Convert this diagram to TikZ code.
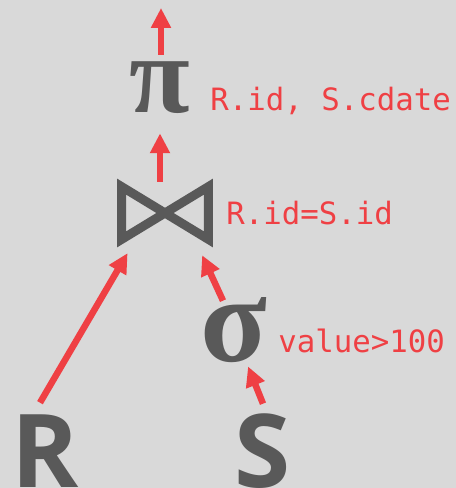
\documentclass[tikz,border=0pt]{standalone}
\usepackage{fontspec}
\setmonofont{DejaVu Sans Mono}
\newfontfamily\opfont{Open Sans}
\newfontfamily\greekfont{Liberation Serif}
\usepackage{tikz}
\usetikzlibrary{arrows.meta,positioning}
\definecolor{bggray}{HTML}{D9D9D9}
\definecolor{opgray}{HTML}{595959}
\definecolor{predred}{HTML}{EF4044}

\begin{document}
\begin{tikzpicture}[x=0.02cm, y=-0.02cm, >={Triangle[length=11.3pt,width=10.8pt]}]
  \tikzstyle{flow} = [->, draw=predred, line width=3.7pt]
  \tikzstyle{op} = [inner sep=0pt, anchor=base, text depth=0pt, text=opgray, font=\opfont\bfseries\fontsize{58}{58}\selectfont]
  \tikzstyle{greekop} = [op, font=\greekfont\bfseries\fontsize{70}{70}\selectfont]
  \tikzstyle{pred} = [inner sep=0pt, anchor=base west, text=predred, font=\ttfamily\fontsize{17.5}{20}\selectfont]

  \useasboundingbox (0,0) rectangle (456,488);
  \fill[bggray] (0,0) rectangle (456,488);

  % projection
  \coordinate (out) at (161,8);
  \node[greekop, text height=1.14cm, font=\greekfont\bfseries\fontsize{63}{63}\selectfont] (pi) at (160,112) {π};
  \node[pred] (pilabel) at (210,110) {R.id, S.cdate};

  % join
  \node[minimum width=1.72cm, minimum height=1.04cm, inner sep=0pt] (join) at (165,213) {};
  \draw[opgray, line width=5.1pt, line join=miter]
    (join.north west) -- (join.south east) -- (join.north east) -- (join.south west) -- cycle;
  \node[pred] (joinlabel) at (226,224) {R.id=S.id};

  % selection
  \node[greekop, text height=1.2cm] (sigma) at (234,361) {σ};
  \node[pred] (sigmalabel) at (278,352) {value>100};

  % base relations
  \node[op, text height=1.68cm] (R) at (45,487) {R};
  \node[op, text height=1.66cm] (S) at (263,487) {S};

  % tuples flow upwards
  \draw[flow] ([xshift=0.02cm]pi.north) -- (out);
  \draw[flow] ([yshift=0.1cm]pi |- join.north) -- ([yshift=-0.42cm]pi.south);
  \draw[flow, shorten >=0.32cm] ([xshift=-0.1cm]R.north) -- ([xshift=0.28cm]join.south west);
  \draw[flow, shorten >=0.35cm] ([xshift=-0.22cm]sigma.north) -- ([xshift=-0.27cm]join.south east);
  \draw[flow, shorten >=0.11cm] (S.north) -- ([xshift=0.24cm]sigma.south);
\end{tikzpicture}
\end{document}
